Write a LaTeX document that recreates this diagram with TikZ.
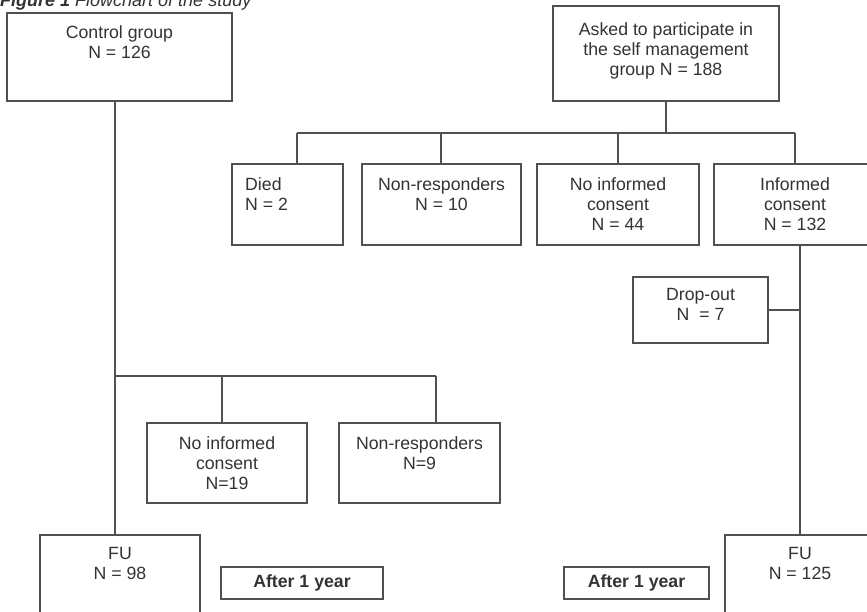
\documentclass[tikz,border=0pt]{standalone}
\usepackage{fontspec}
\setmainfont{Liberation Sans}
\usetikzlibrary{calc}
\definecolor{ln}{HTML}{505050}
\definecolor{tx}{HTML}{333333}
\begin{document}
\begin{tikzpicture}[x=1pt,y=-1pt,
  box/.style={draw=ln, line width=1.2pt, rectangle, inner sep=0pt, outer sep=0pt},
  txt/.style={text=tx, inner sep=0pt, align=center, font=\fontsize{17.7}{20}\selectfont, anchor=north},
  conn/.style={draw=ln, line width=1.2pt}]
\useasboundingbox (0,0) rectangle (867,611);
\clip (0,0) rectangle (867,611);
\fill[white] (0,0) rectangle (867,611);

% title (cut by the top edge, as in the reference)
\node[anchor=base west, inner sep=0pt, text=tx, font=\fontsize{18}{20}\selectfont] (title) at (0,6)
  {\textbf{\textit{Figure 1}} \textit{Flowchart of the study}};

% boxes
\node[box, minimum width=225pt, minimum height=88pt] (ctrl) at (119.5,57) {};
\node[box, minimum width=226pt, minimum height=95pt] (ask) at (666,53.5) {};
\node[box, minimum width=111pt, minimum height=81pt] (died) at (287.5,204.5) {};
\node[box, minimum width=159pt, minimum height=81pt] (nr1) at (441.5,204.5) {};
\node[box, minimum width=162pt, minimum height=81pt] (ni1) at (618,204.5) {};
\node[box, minimum width=162pt, minimum height=81pt] (inf) at (795,204.5) {};
\node[box, minimum width=135pt, minimum height=66pt] (drop) at (700.5,310) {};
\node[box, minimum width=160pt, minimum height=80pt] (ni2) at (227,463) {};
\node[box, minimum width=161pt, minimum height=80pt] (nr2) at (419.5,463) {};
\node[box, minimum width=160pt, minimum height=105pt] (fu1) at (120,587.5) {};
\node[box, minimum width=150pt, minimum height=105pt] (fu2) at (800,587.5) {};
\node[box, minimum width=162pt, minimum height=32pt] (af1) at (302,583) {};
\node[box, minimum width=145pt, minimum height=32pt] (af2) at (636.5,583) {};

% texts
\node[txt] (tctrl) at ($(ctrl.north)+(0,12)$) {Control group\\N = 126};
\node[txt] (task) at ($(ask.north)+(0,16)$) {Asked to participate in\\the self management\\group N = 188};
\node[txt, anchor=north west, align=left] (tdied) at ($(died.north west)+(13,13)$) {Died\\N = 2};
\node[txt] (tnr1) at ($(nr1.north)+(0,13)$) {Non-responders\\N = 10};
\node[txt] (tni1) at ($(ni1.north)+(0,13)$) {No informed\\consent\\N = 44};
\node[txt] (tinf) at ($(inf.north)+(0,13)$) {Informed\\consent\\N = 132};
\node[txt] (tdrop) at ($(drop.north)+(0,11)$) {Drop-out\\N \ = 7};
\node[txt] (tni2) at ($(ni2.north)+(0,13)$) {No informed\\consent\\N=19};
\node[txt] (tnr2) at ($(nr2.north)+(0,13)$) {Non-responders\\N=9};
\node[txt] (tfu1) at ($(fu1.north)+(0,12)$) {FU\\N = 98};
\node[txt] (tfu2) at ($(fu2.north)+(0,12)$) {FU\\N = 125};
\node[txt, anchor=center, font=\bfseries\fontsize{17.7}{20}\selectfont] (taf1) at (af1) {After 1 year};
\node[txt, anchor=center, font=\bfseries\fontsize{17.7}{20}\selectfont] (taf2) at (af2) {After 1 year};

% right tree
\coordinate (jA) at (666,133);
\coordinate (jD) at (297,133);
\coordinate (jN) at (441,133);
\coordinate (jI) at (618,133);
\coordinate (jC) at (795,133);
\draw[conn] (ask.south) -- (jA);
\draw[conn] (jD) -- (jC);
\draw[conn] (jD) -- (jD |- died.north);
\draw[conn] (jN) -- (jN |- nr1.north);
\draw[conn] (jI) -- (jI |- ni1.north);
\draw[conn] (jC) -- (jC |- inf.north);
\draw[conn] (inf.south -| fu2.north) -- (fu2.north);
\draw[conn] (drop.east) -- (drop.east -| fu2.north);

% left tree
\coordinate (cT) at (115,101);
\coordinate (cJ) at (115,376);
\coordinate (cN) at (222,376);
\coordinate (cR) at (436,376);
\draw[conn] (cT) -- (cT |- fu1.north);
\draw[conn] (cJ) -- (cR);
\draw[conn] (cN) -- (cN |- ni2.north);
\draw[conn] (cR) -- (cR |- nr2.north);
\end{tikzpicture}
\end{document}
